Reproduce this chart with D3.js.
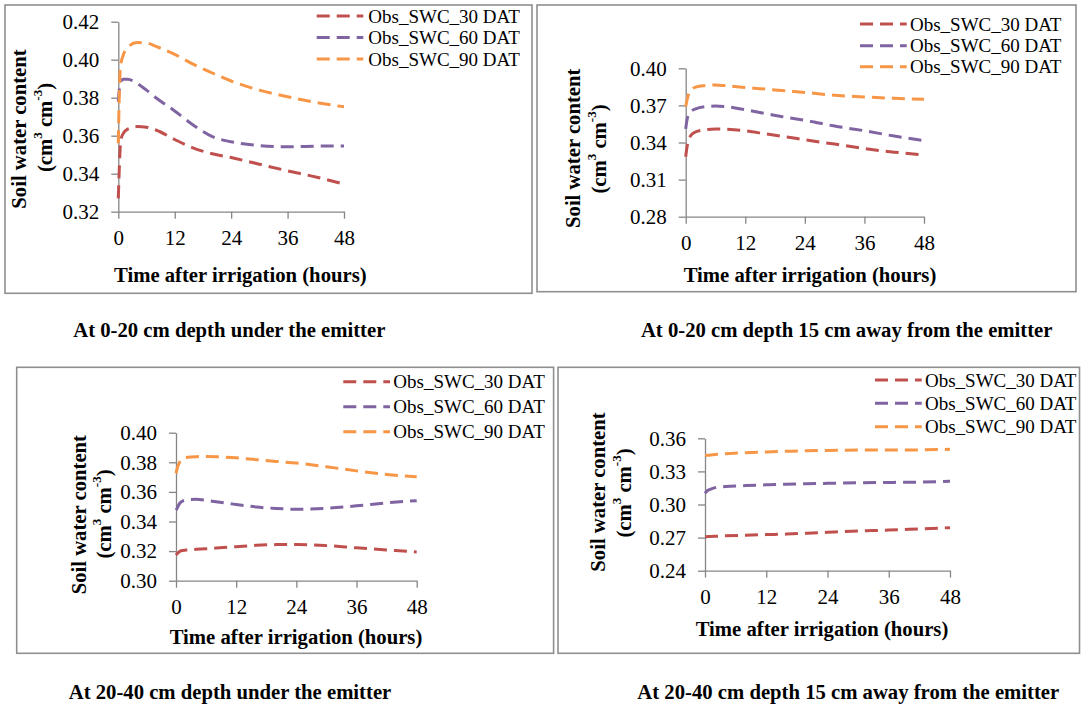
<!DOCTYPE html>
<html>
<head>
<meta charset="utf-8">
<script src="https://cdn.jsdelivr.net/npm/d3@7"></script>
<style>
  html, body { margin: 0; padding: 0; background: #fff; }
  svg { display: block; }
  text { font-family: "Liberation Serif", "Times New Roman", serif; fill: #000; }
</style>
</head>
<body>
<svg id="chart" width="1082" height="706"></svg>
<script>
// ---------------- DATA ----------------
const seriesNames = ["Obs_SWC_30 DAT", "Obs_SWC_60 DAT", "Obs_SWC_90 DAT"];
const seriesColors = ["#C0504D", "#8064A2", "#F79646"];
const xTicks = [0, 12, 24, 36, 48];
const xTitle = "Time after irrigation (hours)";
const yTitle1 = "Soil water content";

const captions = [
  "At 0-20 cm depth under the emitter",
  "At 0-20 cm depth 15 cm away from the emitter",
  "At 20-40 cm depth under the emitter",
  "At 20-40 cm depth 15 cm away from the emitter"
];

// Panel A: 0-20 cm under the emitter
const hoursA = [0, 0.25, 0.5, 1, 2, 4, 6, 8, 12, 16, 20, 24, 30, 36, 42, 48];
const a30 = [0.327, 0.345, 0.357, 0.361, 0.3635, 0.3648, 0.3645, 0.363, 0.358, 0.3535, 0.3505, 0.3485, 0.345, 0.3415, 0.3383, 0.3345];
const a60 = [0.378, 0.385, 0.388, 0.3897, 0.3897, 0.3875, 0.384, 0.380, 0.373, 0.3655, 0.3595, 0.3568, 0.3548, 0.3542, 0.3545, 0.3546];
const a90 = [0.356, 0.385, 0.397, 0.402, 0.4065, 0.409, 0.4088, 0.407, 0.4028, 0.3975, 0.393, 0.3888, 0.384, 0.3805, 0.3775, 0.3752];
const yTicksA = [0.32, 0.34, 0.36, 0.38, 0.40, 0.42];

// Panel B: 0-20 cm, 15 cm away from the emitter
const hoursB = [0, 0.25, 0.5, 1, 2, 4, 6, 8, 12, 16, 20, 24, 30, 36, 42, 48];
const b30 = [0.3285, 0.336, 0.341, 0.3455, 0.3485, 0.3503, 0.3509, 0.3507, 0.3495, 0.347, 0.3447, 0.3422, 0.3387, 0.3351, 0.3322, 0.3300];
const b60 = [0.351, 0.358, 0.362, 0.365, 0.3672, 0.369, 0.3695, 0.369, 0.3665, 0.3635, 0.3605, 0.358, 0.3533, 0.3495, 0.3452, 0.3415];
const b90 = [0.369, 0.374, 0.378, 0.382, 0.3848, 0.386, 0.3865, 0.386, 0.3845, 0.3832, 0.3818, 0.3805, 0.3782, 0.3768, 0.3757, 0.3749];
const yTicksB = [0.28, 0.31, 0.34, 0.37, 0.40];

// Panel C: 20-40 cm under the emitter
const hoursC = [0, 0.25, 0.5, 1, 2, 4, 6, 8, 12, 16, 20, 24, 30, 36, 42, 48];
const c30 = [0.3173, 0.3183, 0.3192, 0.3202, 0.3207, 0.3212, 0.3216, 0.3221, 0.323, 0.3239, 0.3244, 0.3245, 0.3237, 0.3222, 0.3208, 0.3194];
const c60 = [0.3477, 0.349, 0.351, 0.3532, 0.3545, 0.355, 0.3543, 0.3533, 0.3515, 0.3498, 0.3488, 0.3483, 0.3489, 0.3506, 0.3526, 0.3541];
const c90 = [0.3725, 0.376, 0.3785, 0.3815, 0.3833, 0.3838, 0.3839, 0.3838, 0.383, 0.3818, 0.3806, 0.3795, 0.377, 0.3742, 0.3718, 0.3703];
const yTicksC = [0.30, 0.32, 0.34, 0.36, 0.38, 0.40];

// Panel D: 20-40 cm, 15 cm away from the emitter
const hoursD = [0, 0.25, 0.5, 1, 2, 4, 8, 12, 16, 20, 24, 30, 36, 42, 48];
const d30 = [0.2708, 0.2708, 0.2709, 0.271, 0.2712, 0.2716, 0.2722, 0.2727, 0.2732, 0.274, 0.2748, 0.2759, 0.2768, 0.2779, 0.279];
const d60 = [0.3101, 0.3115, 0.3127, 0.3138, 0.3153, 0.3163, 0.3172, 0.3178, 0.3184, 0.3188, 0.3192, 0.3197, 0.32, 0.3203, 0.321];
const d90 = [0.3443, 0.3444, 0.3446, 0.3448, 0.3454, 0.346, 0.347, 0.3476, 0.3482, 0.3487, 0.349, 0.3493, 0.3494, 0.3495, 0.35];
const yTicksD = [0.24, 0.27, 0.30, 0.33, 0.36];

// ---------------- LAYOUT ----------------
const panels = [
  { hours: hoursA, series: [a30, a60, a90], yTicks: yTicksA, caption: captions[0],
    frame: [5, 5, 532, 293.3], x0: 118.3, x1: 344, yTop: 21.7, yBot: 211.7,
    legend: { lx0: 316.7, lx1: 363.3, tx: 368.3, rows: [16, 37.5, 59] },
    xTitle: [240.3, 275], yT1: [19, 129], yT2: [45, 127.5], cap: [229.3, 330] },
  { hours: hoursB, series: [b30, b60, b90], yTicks: yTicksB, caption: captions[1],
    frame: [537, 5, 1076, 291.7], x0: 685.7, x1: 924, yTop: 68.3, yBot: 216.7,
    legend: { lx0: 860, lx1: 906.7, tx: 910, rows: [24, 45.7, 66.7] },
    xTitle: [810, 275], yT1: [573.3, 148.3], yT2: [599.3, 149], cap: [846.7, 330] },
  { hours: hoursC, series: [c30, c60, c90], yTicks: yTicksC, caption: captions[2],
    frame: [16.7, 367.3, 553.6, 653.3], x0: 176, x1: 416.7, yTop: 432.7, yBot: 580.7,
    legend: { lx0: 343.3, lx1: 390, tx: 393.3, rows: [381.7, 406.7, 431.7] },
    xTitle: [296, 636.7], yT1: [79, 514.7], yT2: [104.3, 514], cap: [230, 691.7] },
  { hours: hoursD, series: [d30, d60, d90], yTicks: yTicksD, caption: captions[3],
    frame: [558, 367.3, 1079.5, 653.3], x0: 705, x1: 950, yTop: 438.3, yBot: 570.7,
    legend: { lx0: 875, lx1: 921.7, tx: 925, rows: [380, 403.3, 426.7] },
    xTitle: [822, 629.3], yT1: [598.3, 492], yT2: [624, 493], cap: [848.3, 691.7] }
];

const svg = d3.select("#chart");
svg.append("rect").attr("width", 1082).attr("height", 706).attr("fill", "#fff");

const BOLD_SIZE = 20.7;
const TICK_SIZE = 21;
const LEG_SIZE = 19;
const DASH = "13,7";

panels.forEach(p => {
  const g = svg.append("g");
  const [fx0, fy0, fx1, fy1] = p.frame;
  g.append("rect")
    .attr("x", fx0).attr("y", fy0)
    .attr("width", fx1 - fx0).attr("height", fy1 - fy0)
    .attr("fill", "none").attr("stroke", "#8f8f8f").attr("stroke-width", 1.6);

  const x = d3.scaleLinear().domain([0, 48]).range([p.x0, p.x1]);
  const y = d3.scaleLinear()
    .domain([p.yTicks[0], p.yTicks[p.yTicks.length - 1]])
    .range([p.yBot, p.yTop]);

  // axes
  const yAxis = d3.axisLeft(y).tickValues(p.yTicks).tickFormat(d3.format(".2f"))
    .tickSize(7).tickSizeOuter(0).tickPadding(12);
  const xAxis = d3.axisBottom(x).tickValues(xTicks).tickFormat(d3.format("d"))
    .tickSize(7).tickSizeOuter(0).tickPadding(11);

  const ya = g.append("g").attr("transform", `translate(${p.x0},0)`).call(yAxis);
  const xa = g.append("g").attr("transform", `translate(0,${p.yBot})`).call(xAxis);
  [ya, xa].forEach(a => {
    a.select(".domain").attr("stroke", "#868686").attr("stroke-width", 1.3);
    a.selectAll(".tick line").attr("stroke", "#868686").attr("stroke-width", 1.3);
    a.selectAll(".tick text")
      .attr("fill", "#111")
      .style("font-family", '"Liberation Serif", "Times New Roman", serif')
      .style("font-size", TICK_SIZE + "px");
  });

  // lines
  const line = d3.line()
    .x((d, i) => x(p.hours[i]))
    .y(d => y(d))
    .curve(d3.curveMonotoneX);
  p.series.forEach((s, k) => {
    g.append("path")
      .datum(s)
      .attr("d", line)
      .attr("fill", "none")
      .attr("stroke", seriesColors[k])
      .attr("stroke-width", 3)
      .attr("stroke-dasharray", DASH);
  });

  // legend
  seriesNames.forEach((name, k) => {
    const ry = p.legend.rows[k];
    g.append("line")
      .attr("x1", p.legend.lx0).attr("x2", p.legend.lx1)
      .attr("y1", ry).attr("y2", ry)
      .attr("stroke", seriesColors[k]).attr("stroke-width", 3)
      .attr("stroke-dasharray", DASH);
    g.append("text")
      .attr("x", p.legend.tx).attr("y", ry)
      .attr("dominant-baseline", "central")
      .style("font-size", LEG_SIZE + "px")
      .text(name);
  });

  // x title
  g.append("text")
    .attr("x", p.xTitle[0]).attr("y", p.xTitle[1])
    .attr("text-anchor", "middle").attr("dominant-baseline", "central")
    .style("font-size", BOLD_SIZE + "px").style("font-weight", "bold")
    .text(xTitle);

  // y title (two lines, rotated)
  g.append("text")
    .attr("transform", `translate(${p.yT1[0]},${p.yT1[1]}) rotate(-90)`)
    .attr("text-anchor", "middle").attr("dominant-baseline", "central")
    .style("font-size", BOLD_SIZE + "px").style("font-weight", "bold")
    .text(yTitle1);
  const t2 = g.append("text")
    .attr("transform", `translate(${p.yT2[0]},${p.yT2[1]}) rotate(-90)`)
    .attr("text-anchor", "middle").attr("dominant-baseline", "central")
    .style("font-size", BOLD_SIZE + "px").style("font-weight", "bold");
  t2.append("tspan").text("(cm");
  t2.append("tspan").attr("baseline-shift", "super").style("font-size", "13px").text("3");
  t2.append("tspan").text(" cm");
  t2.append("tspan").attr("baseline-shift", "super").style("font-size", "13px").text("-3");
  t2.append("tspan").text(")");

  // caption
  g.append("text")
    .attr("x", p.cap[0]).attr("y", p.cap[1])
    .attr("text-anchor", "middle").attr("dominant-baseline", "central")
    .style("font-size", BOLD_SIZE + "px").style("font-weight", "bold")
    .text(p.caption);
});
</script>
</body>
</html>
